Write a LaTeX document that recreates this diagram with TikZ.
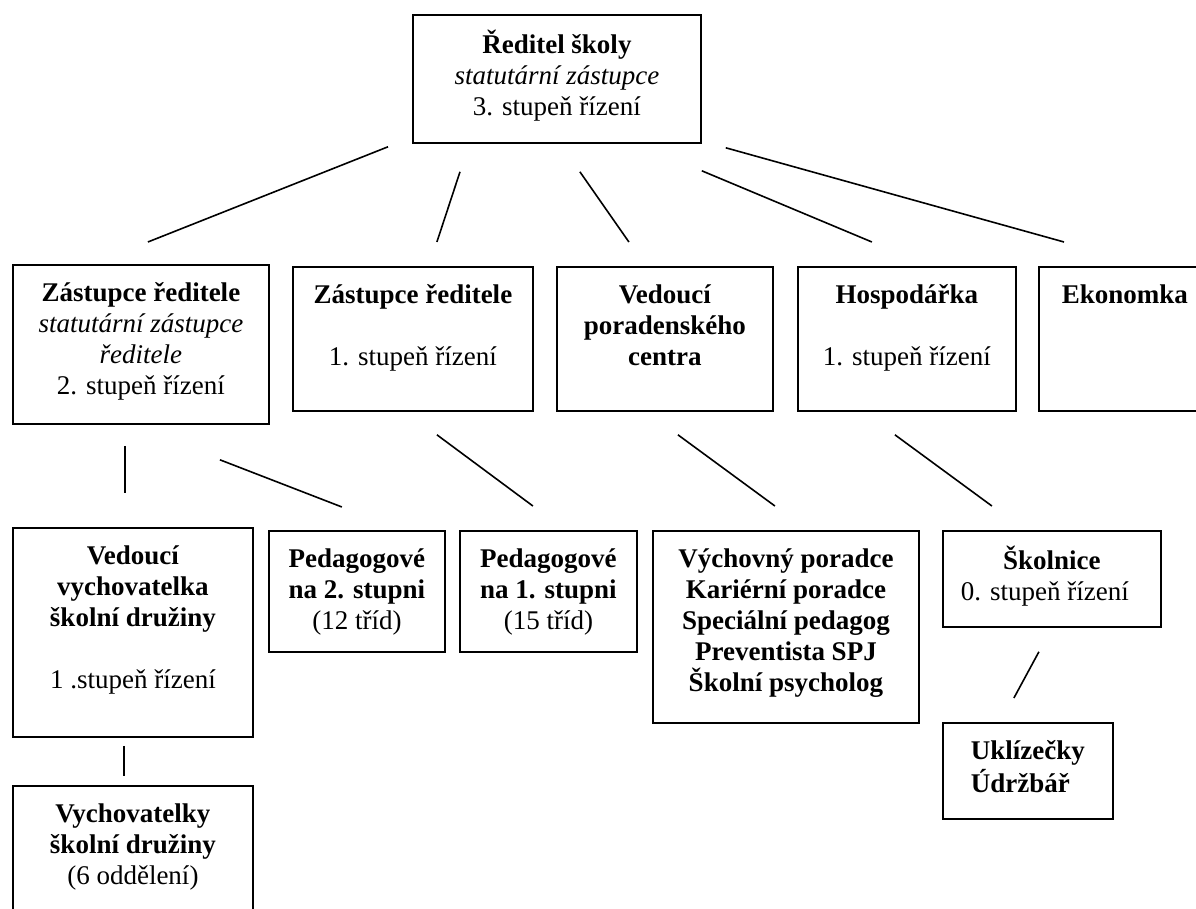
\documentclass[tikz,border=0pt]{standalone}
\usepackage{fontspec}
\setmainfont{Liberation Serif}
\newdimen\pxu \pxu=0.5pt
\newcommand{\boxtext}[3]{\parbox[t][#2\pxu][t]{#1\pxu}{\centering\vspace*{7.5pt}\strut#3}}

\begin{document}
\begin{tikzpicture}[
    x=0.5pt, y=-0.5pt,
    font=\fontsize{13.5}{15.5}\selectfont,
    box/.style={rectangle, draw, line width=0.9pt, inner sep=0pt, anchor=north west},
    link/.style={line width=0.8pt}
  ]
  \useasboundingbox (0,0) rectangle (1196,909);
  \clip (0,0) rectangle (1196,909);

  % vedeni
  \node[box] (ridi) at (412,14) {\boxtext{288}{128}{\textbf{Ředitel školy}\\ \textit{statutární zástupce}\\ 3. stupeň řízení}};

  % druha uroven
  \node[box] (zast1) at (12,264) {\boxtext{256}{159}{\textbf{Zástupce ředitele}\\ \textit{statutární zástupce}\\ \textit{ředitele}\\ 2. stupeň řízení}};
  \node[box] (zast2) at (292,266) {\boxtext{240}{144}{\textbf{Zástupce ředitele}\\ ~\\ 1. stupeň řízení}};
  \node[box] (vedpor) at (556,266) {\boxtext{216}{144}{\textbf{Vedoucí\\ poradenského\\ centra}}};
  \node[box] (hosp) at (797,266) {\boxtext{218}{144}{\textbf{Hospodářka}\\ ~\\ 1. stupeň řízení}};
  \node[box] (ekon) at (1038,266) {\boxtext{172}{144}{\textbf{Ekonomka}}};

  % treti uroven
  \node[box] (vedvych) at (12,527) {\boxtext{240}{209}{\textbf{Vedoucí\\ vychovatelka\\ školní družiny}\\ ~\\ 1 .stupeň řízení}};
  \node[box] (ped2) at (268,530) {\boxtext{176}{121}{\textbf{Pedagogové\\ na 2. stupni}\\ (12 tříd)}};
  \node[box] (ped1) at (459,530) {\boxtext{177}{121}{\textbf{Pedagogové\\ na 1. stupni}\\ (15 tříd)}};
  \node[box] (poradci) at (652,530) {\boxtext{266}{192}{\textbf{Výchovný poradce\\ Kariérní poradce\\ Speciální pedagog\\ Preventista SPJ\\ Školní psycholog}}};
  \node[box] (skolnice) at (942,530) {\boxtext{218}{96}{\textbf{Školnice}\\ 0. stupeň řízení\hspace*{7pt}}};
  \node[box] (ukliz) at (942,722) {\boxtext{170}{96}{\textbf{\begin{tabular}[t]{@{}l@{}}Uklízečky\\ Údržbář\end{tabular}}}};
  \node[box] (vych) at (12,785) {\boxtext{240}{150}{\textbf{Vychovatelky\\ školní družiny}\\ (6 oddělení)}};

  % spojnice
  \draw[link] ([shift={(-24,3)}]ridi.south west) -- ([shift={(7,-22)}]zast1.north);
  \draw[link] ([shift={(48,28)}]ridi.south west) -- ([shift={(24,-24)}]zast2.north);
  \draw[link] ([shift={(23,28)}]ridi.south) -- ([shift={(-36,-24)}]vedpor.north);
  \draw[link] ([shift={(0,27)}]ridi.south east) -- ([shift={(-35,-24)}]hosp.north);
  \draw[link] ([shift={(24,4)}]ridi.south east) -- ([shift={(26,-24)}]ekon.north west);

  \draw[link] ([shift={(-16,21)}]zast1.south) -- ([shift={(-8,-34)}]vedvych.north);
  \draw[link] ([shift={(79,35)}]zast1.south) -- ([shift={(-15,-23)}]ped2.north);
  \draw[link] ([shift={(24,23)}]zast2.south) -- ([shift={(-15.5,-24)}]ped1.north);
  \draw[link] ([shift={(13,23)}]vedpor.south) -- ([shift={(-11,-24)}]poradci.north);
  \draw[link] ([shift={(-12,23)}]hosp.south) -- ([shift={(-60,-24)}]skolnice.north);

  \draw[link] ([shift={(-13,24)}]skolnice.south) -- ([shift={(-14,-24)}]ukliz.north);
  \draw[link] ([shift={(-9,8)}]vedvych.south) -- ([shift={(-9,-9)}]vych.north);
\end{tikzpicture}
\end{document}
